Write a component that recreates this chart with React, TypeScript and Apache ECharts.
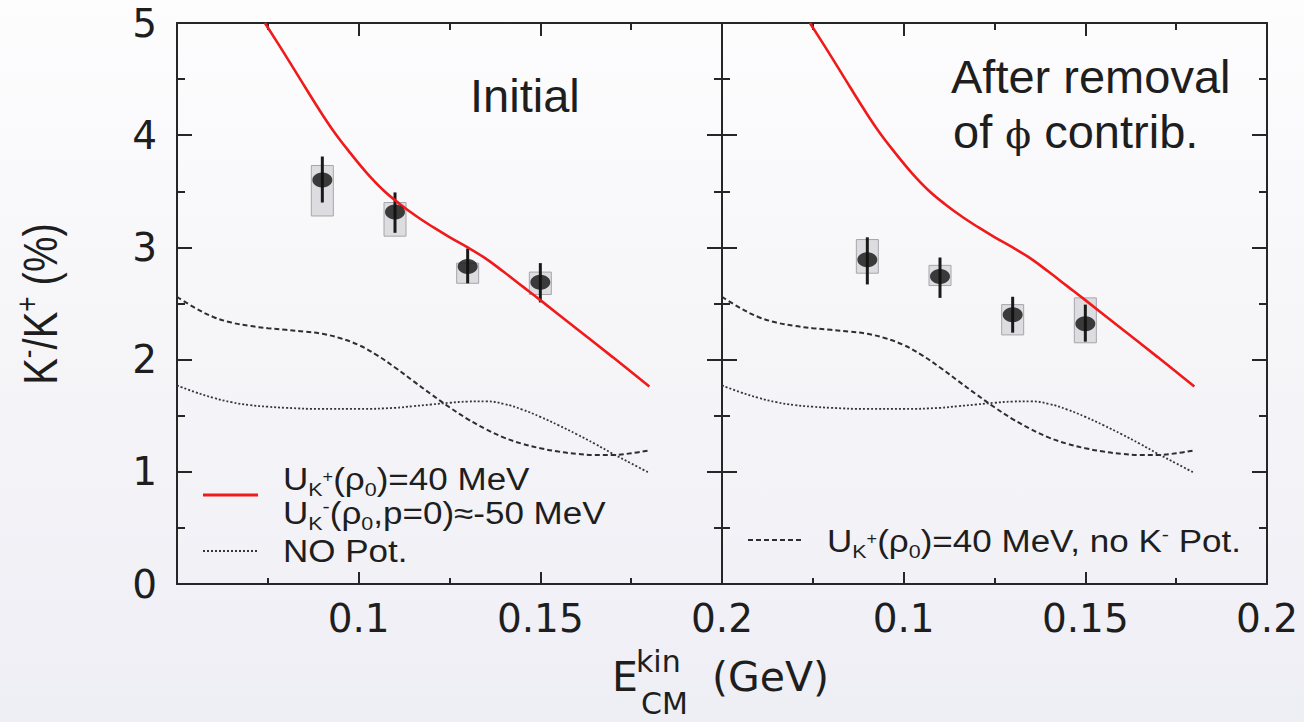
import React, { useEffect, useRef } from 'react';
import * as echarts from 'echarts';

// ---- axis ranges / ticks ----
const X_MIN = 0.05;
const X_MAX = 0.2;
const X_STEP = 0.05;
const Y_MIN = 0;
const Y_MAX = 5;
const Y_STEP = 1;

// ---- model curves (same in both panels) ----
const redCurveX = [0.0742, 0.0793, 0.0839, 0.0885, 0.093, 0.0976, 0.1022, 0.1068, 0.1114, 0.116, 0.1205, 0.1251, 0.13, 0.135, 0.14, 0.145, 0.15, 0.16, 0.17, 0.18];
const redCurveY = [5.0, 4.74, 4.5, 4.26, 4.04, 3.845, 3.665, 3.51, 3.385, 3.275, 3.18, 3.09, 3.0, 2.9, 2.78, 2.655, 2.53, 2.275, 2.02, 1.76];

const dashCurveX = [0.05, 0.055, 0.06, 0.065, 0.07, 0.075, 0.08, 0.085, 0.09, 0.095, 0.1, 0.105, 0.11, 0.115, 0.12, 0.125, 0.13, 0.135, 0.14, 0.145, 0.15, 0.155, 0.16, 0.165, 0.17, 0.175, 0.18];
const dashCurveY = [2.56, 2.46, 2.38, 2.33, 2.3, 2.28, 2.265, 2.25, 2.23, 2.19, 2.13, 2.04, 1.93, 1.81, 1.69, 1.575, 1.47, 1.38, 1.305, 1.25, 1.21, 1.18, 1.16, 1.15, 1.15, 1.165, 1.19];

const dotCurveX = [0.05, 0.055, 0.06, 0.065, 0.07, 0.075, 0.08, 0.09, 0.1, 0.11, 0.115, 0.12, 0.125, 0.13, 0.135, 0.14, 0.145, 0.15, 0.155, 0.16, 0.165, 0.17, 0.175, 0.18];
const dotCurveY = [1.77, 1.71, 1.66, 1.62, 1.595, 1.58, 1.57, 1.56, 1.56, 1.57, 1.585, 1.6, 1.615, 1.626, 1.628, 1.605, 1.555, 1.49, 1.415, 1.335, 1.25, 1.16, 1.075, 0.99];

// ---- data, left panel ("Initial") ----
const initialX = [0.09, 0.11, 0.13, 0.15];
const initialY = [3.6, 3.315, 2.83, 2.69];
const initialErrLow = [3.4, 3.13, 2.68, 2.51];
const initialErrHigh = [3.81, 3.49, 2.99, 2.86];
const initialSysLow = [3.28, 3.1, 2.68, 2.58];
const initialSysHigh = [3.73, 3.4, 2.86, 2.78];

// ---- data, right panel ("After removal of phi contrib.") ----
const removedX = [0.09, 0.11, 0.13, 0.15];
const removedY = [2.89, 2.74, 2.4, 2.32];
const removedErrLow = [2.67, 2.55, 2.24, 2.16];
const removedErrHigh = [3.09, 2.91, 2.56, 2.49];
const removedSysLow = [2.77, 2.66, 2.22, 2.15];
const removedSysHigh = [3.07, 2.84, 2.49, 2.55];

const AXIS_COLOR = '#262626';
const TEXT_COLOR = '#1e1e1e';
const RED = '#f01a1a';
const LEGEND_FONT = 'Liberation Sans';
const STRETCH = 1.13;

const zip = (xs: number[], ys: number[]) => xs.map((x, i) => [x, ys[i]]);

function xAxisDef(gridIndex: number, position: string, showLabels: boolean) {
  const top = position === 'top';
  return {
    type: 'value',
    gridIndex,
    position,
    min: X_MIN,
    max: X_MAX,
    interval: X_STEP,
    axisLine: { show: true, onZero: false, lineStyle: { color: AXIS_COLOR, width: 2 } },
    axisTick: { show: true, inside: true, length: top ? 13 : 12, lineStyle: { color: AXIS_COLOR, width: 2 } },
    minorTick: { show: true, splitNumber: 2, length: top ? 7 : 6, lineStyle: { color: AXIS_COLOR, width: 2 } },
    splitLine: { show: false },
    minorSplitLine: { show: false },
    axisLabel: {
      show: showLabels,
      margin: 15,
      fontFamily: 'DejaVu Sans',
      fontSize: 39,
      color: TEXT_COLOR,
      formatter: (v: number) => (Math.abs(v - X_MIN) < 1e-9 ? '' : String(+v.toFixed(2))),
    },
  };
}

function yAxisDef(gridIndex: number, position: string, showLabels: boolean) {
  return {
    type: 'value',
    gridIndex,
    position,
    min: Y_MIN,
    max: Y_MAX,
    interval: Y_STEP,
    axisLine: { show: true, onZero: false, lineStyle: { color: AXIS_COLOR, width: 2 } },
    axisTick: { show: true, inside: true, length: 15, lineStyle: { color: AXIS_COLOR, width: 2 } },
    minorTick: { show: true, splitNumber: 2, length: 8, lineStyle: { color: AXIS_COLOR, width: 2 } },
    splitLine: { show: false },
    minorSplitLine: { show: false },
    axisLabel: {
      show: showLabels,
      margin: 20,
      fontFamily: 'DejaVu Sans',
      fontSize: 39,
      color: TEXT_COLOR,
      formatter: (v: number) => String(v),
    },
  };
}

function panelSeries(
  xAxisIndex: number,
  yAxisIndex: number,
  px: number[],
  py: number[],
  eLo: number[],
  eHi: number[],
  sLo: number[],
  sHi: number[]
) {
  const errData = px.map((x, i) => [x, py[i], eLo[i], eHi[i], sLo[i], sHi[i]]);
  return [
    {
      type: 'line',
      xAxisIndex,
      yAxisIndex,
      data: zip(dashCurveX, dashCurveY),
      smooth: 0.4,
      showSymbol: false,
      silent: true,
      lineStyle: { color: '#2e2e2e', width: 2, type: [5, 3] },
      z: 2,
    },
    {
      type: 'line',
      xAxisIndex,
      yAxisIndex,
      data: zip(dotCurveX, dotCurveY),
      smooth: 0.45,
      showSymbol: false,
      silent: true,
      lineStyle: { color: '#363636', width: 1.8, type: [2, 2] },
      z: 2,
    },
    {
      type: 'custom',
      xAxisIndex,
      yAxisIndex,
      data: errData,
      z: 3,
      renderItem: (params: any, api: any) => {
        const x = api.value(0);
        const sysLowP = api.coord([x, api.value(4)]);
        const sysHighP = api.coord([x, api.value(5)]);
        const errLowP = api.coord([x, api.value(2)]);
        const errHighP = api.coord([x, api.value(3)]);
        const boxW = 22;
        return {
          type: 'group',
          children: [
            {
              type: 'rect',
              shape: { x: sysLowP[0] - boxW / 2, y: sysHighP[1], width: boxW, height: sysLowP[1] - sysHighP[1] },
              style: { fill: '#dcdce1', stroke: '#a6a6aa', lineWidth: 1 },
            },
            {
              type: 'line',
              shape: { x1: errLowP[0], y1: errLowP[1], x2: errHighP[0], y2: errHighP[1] },
              style: { stroke: '#1a1a1a', lineWidth: 3 },
            },
          ],
        };
      },
    },
    {
      type: 'line',
      xAxisIndex,
      yAxisIndex,
      data: zip(redCurveX, redCurveY),
      smooth: 0.4,
      showSymbol: false,
      silent: true,
      lineStyle: { color: RED, width: 2.6 },
      z: 4,
    },
    {
      type: 'scatter',
      xAxisIndex,
      yAxisIndex,
      data: zip(px, py),
      symbol: 'circle',
      symbolSize: [20, 15],
      itemStyle: { color: '#111' },
      z: 5,
    },
  ];
}

const legendRich = {
  n: { fontSize: 31, fontFamily: LEGEND_FONT, fill: TEXT_COLOR, lineHeight: 34 },
  s: { fontSize: 19, fontFamily: LEGEND_FONT, fill: TEXT_COLOR, padding: [20, 0, 0, 0] },
  p: { fontSize: 16, fontFamily: LEGEND_FONT, fill: TEXT_COLOR, padding: [0, 0, 4, 0] },
  m: { fontSize: 19, fontFamily: LEGEND_FONT, fill: TEXT_COLOR, padding: [0, 0, 14, 0] },
};

function legendText(x: number, y: number, text: string) {
  return {
    type: 'text',
    x,
    y,
    scaleX: STRETCH,
    style: { text, align: 'left', verticalAlign: 'middle', fill: TEXT_COLOR, rich: legendRich },
  };
}

export default function App() {
  const ref = useRef<HTMLDivElement>(null);

  useEffect(() => {
    if (!ref.current) return;
    const chart = echarts.init(ref.current, null, { renderer: 'svg' });

    const option = {
      animation: false,
      backgroundColor: 'transparent',
      grid: [
        { left: 177, top: 23, width: 545, height: 561 },
        { left: 722, top: 23, width: 545, height: 561 },
      ],
      xAxis: [
        xAxisDef(0, 'bottom', true),
        xAxisDef(0, 'top', false),
        xAxisDef(1, 'bottom', true),
        xAxisDef(1, 'top', false),
      ],
      yAxis: [
        yAxisDef(0, 'left', true),
        yAxisDef(0, 'right', false),
        yAxisDef(1, 'left', false),
        yAxisDef(1, 'right', false),
      ],
      series: [
        ...panelSeries(0, 0, initialX, initialY, initialErrLow, initialErrHigh, initialSysLow, initialSysHigh),
        ...panelSeries(2, 2, removedX, removedY, removedErrLow, removedErrHigh, removedSysLow, removedSysHigh),
      ],
      graphic: [
        // y-axis title
        {
          type: 'text',
          x: 40,
          y: 304,
          rotation: Math.PI / 2,
          scaleY: 1.18,
          style: {
            text: '{m|K}{u|-}{m|/K}{u|+}{m| (%)}',
            align: 'center',
            verticalAlign: 'middle',
            fill: TEXT_COLOR,
            rich: {
              m: { fontSize: 40, fontFamily: 'Liberation Sans', fill: TEXT_COLOR, lineHeight: 60 },
              u: { fontSize: 26, fontFamily: 'Liberation Sans', fill: TEXT_COLOR, padding: [0, 0, 22, 0] },
            },
          },
        },
        // x-axis title
        { type: 'text', x: 612, y: 677, style: { text: 'E', fontSize: 41, fontFamily: 'DejaVu Sans', fill: TEXT_COLOR, align: 'left', verticalAlign: 'middle' } },
        { type: 'text', x: 636, y: 661, style: { text: 'kin', fontSize: 30, fontFamily: 'DejaVu Sans', fill: TEXT_COLOR, align: 'left', verticalAlign: 'middle' } },
        { type: 'text', x: 641, y: 703, style: { text: 'CM', fontSize: 30, fontFamily: 'DejaVu Sans', fill: TEXT_COLOR, align: 'left', verticalAlign: 'middle' } },
        { type: 'text', x: 712, y: 677, style: { text: '(GeV)', fontSize: 41, fontFamily: 'DejaVu Sans', fill: TEXT_COLOR, align: 'left', verticalAlign: 'middle' } },
        // panel annotations
        { type: 'text', x: 470, y: 95, style: { text: 'Initial', fontSize: 47, fontFamily: 'Liberation Sans', fill: TEXT_COLOR, align: 'left', verticalAlign: 'middle' } },
        { type: 'text', x: 951, y: 76, style: { text: 'After removal', fontSize: 47, fontFamily: 'Liberation Sans', fill: TEXT_COLOR, align: 'left', verticalAlign: 'middle' } },
        {
          type: 'text',
          x: 953,
          y: 131,
          style: {
            text: '{a|of }{f|ϕ}{a| contrib.}',
            align: 'left',
            verticalAlign: 'middle',
            fill: TEXT_COLOR,
            rich: {
              a: { fontSize: 47, fontFamily: 'Liberation Sans', fill: TEXT_COLOR, lineHeight: 60 },
              f: { fontSize: 38, fontFamily: 'DejaVu Serif', fill: TEXT_COLOR, padding: [8, 0, 0, 0] },
            },
          },
        },
        // left legend
        { type: 'line', shape: { x1: 203, y1: 495, x2: 258, y2: 495 }, style: { stroke: RED, lineWidth: 3 } },
        { type: 'line', shape: { x1: 203, y1: 551, x2: 258, y2: 551 }, style: { stroke: '#363636', lineWidth: 1.8, lineDash: [2, 2] } },
        legendText(283, 479, '{n|U}{s|K}{p|+}{n|(ρ}{s|0}{n|)=40 MeV}'),
        legendText(283, 513, '{n|U}{s|K}{m|-}{n|(ρ}{s|0}{n|,p=0)≈-50 MeV}'),
        legendText(283, 551, '{n|NO Pot.}'),
        // right legend
        { type: 'line', shape: { x1: 748, y1: 540, x2: 803, y2: 540 }, style: { stroke: '#2e2e2e', lineWidth: 2, lineDash: [5, 3] } },
        legendText(827, 541, '{n|U}{s|K}{p|+}{n|(ρ}{s|0}{n|)=40 MeV, no K}{m|-}{n| Pot.}'),
      ],
    };

    chart.setOption(option as any);
    return () => chart.dispose();
  }, []);

  return (
    <div
      ref={ref}
      style={{
        position: 'fixed',
        left: 0,
        top: 0,
        width: 1304,
        height: 722,
        background: 'linear-gradient(to bottom, #fdfdfe 0%, #f6f6f9 45%, #eeeef5 100%)',
      }}
    />
  );
}
